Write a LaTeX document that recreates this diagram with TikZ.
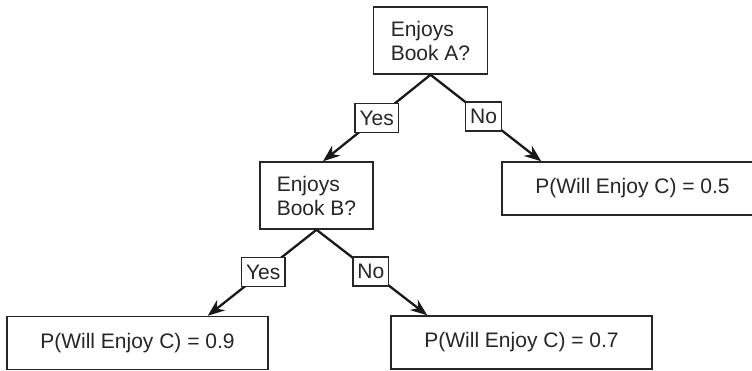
\documentclass[tikz,border=0pt]{standalone}
\usepackage{fontspec}
\setmainfont{Liberation Sans}
\usetikzlibrary{arrows.meta,calc}
\begin{document}
\begin{tikzpicture}[x=1pt,y=-1pt,
  box/.style={draw=black!85,line width=1.5pt,fill=white,inner sep=0pt,
    font=\fontsize{21}{24}\selectfont,text=black!85},
  qbox/.style={box,align=left,minimum width=114pt,minimum height=67pt},
  leaf/.style={box,minimum width=261pt,minimum height=53pt},
  lab/.style={box,inner xsep=4.5pt,minimum height=29pt},
  conn/.style={line width=2.3pt,draw=black!90},
  arr/.style={conn,-{Stealth[length=17pt,width=13pt]}}]
\useasboundingbox (0,0) rectangle (752,370);
\node[qbox] (root) at (430.5,40.5) {Enjoys\\Book A?};
\node[qbox,minimum width=113pt] (mid) at (316.5,195.5) {Enjoys\\Book B?};
\node[leaf] (leafR) at (632.5,188.5) {P(Will Enjoy C) = 0.5};
\node[leaf] (leafL) at (137.5,343) {P(Will Enjoy C) = 0.9};
\node[leaf] (leafM) at (521.5,342.5) {P(Will Enjoy C) = 0.7};
\draw[arr] (root.south) -- node[lab,pos=0.5] {Yes} ($(mid.north)+(6.5,0)$);
\draw[arr] (root.south) -- node[lab,pos=0.48] {No} ($(leafR.north west)+(40,0)$);
\draw[arr] (mid.south) -- node[lab,pos=0.49] {Yes} ($(leafL.north east)+(-61,0)$);
\draw[arr] (mid.south) -- node[lab,pos=0.49] {No} ($(leafM.north west)+(37,0)$);
\end{tikzpicture}
\end{document}
